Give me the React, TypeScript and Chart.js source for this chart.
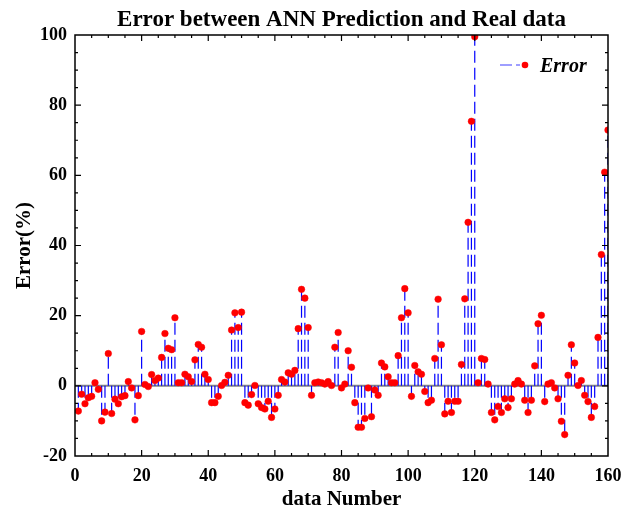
import React, { useEffect, useRef } from "react";
import { Chart, registerables } from "chart.js";

Chart.register(...registerables);

const chartTitle = "Error between ANN Prediction and Real data";
const xAxisTitle = "data Number";
const yAxisTitle = "Error(%)";
const seriesName = "Error";

const xMin = 0;
const xMax = 160;
const xStep = 20;
const yMin = -20;
const yMax = 100;
const yStep = 20;
const minorStep = 5;

const errorValues = [
  -7.2, -2.4, -5.1, -3.4, -3.0, 0.9, -1.0, -10.0, -7.5, 9.2,
  -7.9, -3.8, -5.1, -3.1, -2.8, 1.2, -0.6, -9.7, -2.8, 15.5,
  0.4, -0.2, 3.2, 1.5, 2.2, 8.1, 14.9, 10.7, 10.3, 19.4,
  0.9, 0.9, 3.3, 2.6, 1.2, 7.4, 11.8, 11.0, 3.3, 1.8,
  -4.8, -4.8, -3.0, 0.1, 1.0, 3.0, 15.9, 20.8, 16.6, 21.0,
  -4.8, -5.5, -2.5, 0.1, -5.1, -6.2, -6.6, -4.4, -9.0, -6.6,
  -2.7, 1.8, 1.1, 3.7, 3.3, 4.4, 16.3, 27.5, 25.0, 16.6,
  -2.7, 0.9, 1.1, 0.9, 0.5, 1.2, 0.1, 11.0, 15.2, -0.6,
  0.5, 10.0, 5.3, -4.8, -11.8, -11.8, -9.3, -0.6, -8.8, -1.2,
  -2.7, 6.5, 5.4, 2.6, 0.9, 0.9, 8.6, 19.4, 27.7, 20.8,
  -3.0, 5.8, 4.0, 3.3, -1.6, -4.8, -4.1, 7.8, 24.7, 11.7,
  -8.0, -4.4, -7.6, -4.4, -4.4, 6.1, 24.8, 46.6, 75.4, 99.5,
  0.9, 7.8, 7.5, 0.5, -7.6, -9.7, -5.9, -7.6, -3.7, -6.2,
  -3.7, 0.5, 1.5, 0.5, -4.1, -7.6, -4.1, 5.7, 17.7, 20.1,
  -4.5, 0.5, 0.9, -0.6, -3.7, -10.1, -13.9, 3.0, 11.7, 6.5,
  0.1, 1.5, -2.7, -4.5, -9.0, -5.9, 13.8, 37.4, 60.9, 72.9,
];

const dataNumbers = errorValues.map((_, i) => i + 1);

const SERIF = "'Liberation Serif', 'Times New Roman', serif";

const stemPlugin = {
  id: "stems",
  beforeDatasetsDraw(chart: any) {
    const { ctx, chartArea, scales } = chart;
    const ys = scales.y;
    const y0 = ys.getPixelForValue(0);
    ctx.save();
    ctx.beginPath();
    ctx.rect(chartArea.left, chartArea.top, chartArea.right - chartArea.left, chartArea.bottom - chartArea.top);
    ctx.clip();
    ctx.strokeStyle = "#858585";
    ctx.lineWidth = 2;
    ctx.beginPath();
    ctx.moveTo(chartArea.left, y0);
    ctx.lineTo(chartArea.right, y0);
    ctx.stroke();
    const meta = chart.getDatasetMeta(0);
    ctx.strokeStyle = "#0000ff";
    ctx.lineWidth = 1.2;
    ctx.setLineDash([12, 5]);
    meta.data.forEach((pt: any) => {
      ctx.beginPath();
      ctx.moveTo(pt.x, y0);
      ctx.lineTo(pt.x, pt.y);
      ctx.stroke();
    });
    ctx.restore();
  },
  afterDraw(chart: any) {
    const { ctx, chartArea, scales } = chart;
    const xs = scales.x;
    const ys = scales.y;
    ctx.save();
    ctx.strokeStyle = "#000";
    ctx.lineWidth = 1.5;
    ctx.strokeRect(chartArea.left, chartArea.top, chartArea.right - chartArea.left, chartArea.bottom - chartArea.top);
    ctx.lineWidth = 1.2;
    ctx.beginPath();
    for (let v = xMin + minorStep; v < xMax; v += minorStep) {
      const px = xs.getPixelForValue(v);
      const len = v % xStep === 0 ? 6 : 3;
      ctx.moveTo(px, chartArea.bottom);
      ctx.lineTo(px, chartArea.bottom - len);
      ctx.moveTo(px, chartArea.top);
      ctx.lineTo(px, chartArea.top + len);
    }
    for (let v = yMin + minorStep; v < yMax; v += minorStep) {
      const py = ys.getPixelForValue(v);
      const len = (v - yMin) % yStep === 0 ? 6 : 3;
      ctx.moveTo(chartArea.left, py);
      ctx.lineTo(chartArea.left + len, py);
      ctx.moveTo(chartArea.right, py);
      ctx.lineTo(chartArea.right - len, py);
    }
    ctx.stroke();
    ctx.fillStyle = "#000";
    ctx.font = `bold 23px ${SERIF}`;
    ctx.textAlign = "center";
    ctx.textBaseline = "alphabetic";
    ctx.fillText(chartTitle, (chartArea.left + chartArea.right) / 2, 26);
    const lx = chartArea.right - 108;
    const ly = chartArea.top + 30;
    ctx.strokeStyle = "#7f7fff";
    ctx.lineWidth = 1.5;
    ctx.setLineDash([12, 4]);
    ctx.beginPath();
    ctx.moveTo(lx, ly);
    ctx.lineTo(lx + 20, ly);
    ctx.stroke();
    ctx.setLineDash([]);
    ctx.fillStyle = "#ff0000";
    ctx.beginPath();
    ctx.arc(lx + 25, ly, 3.3, 0, Math.PI * 2);
    ctx.fill();
    ctx.fillStyle = "#000";
    ctx.font = `italic bold 20px ${SERIF}`;
    ctx.textAlign = "left";
    ctx.fillText(seriesName, lx + 40, ly + 7);
    ctx.restore();
  },
};

export default function App() {
  const canvasRef = useRef<HTMLCanvasElement | null>(null);

  useEffect(() => {
    document.body.style.margin = "0";
    const canvas = canvasRef.current;
    if (!canvas) return;
    const chart = new Chart(canvas, {
      type: "scatter",
      data: {
        datasets: [
          {
            label: seriesName,
            data: dataNumbers.map((n, i) => ({ x: n, y: errorValues[i] })),
            showLine: false,
            pointRadius: 3.3,
            pointBackgroundColor: "#ff0000",
            pointBorderColor: "#ff0000",
            pointBorderWidth: 0.5,
          },
        ],
      },
      options: {
        animation: false,
        responsive: false,
        devicePixelRatio: 1,
        layout: { padding: { top: 35, right: 24, left: 0, bottom: 0 } },
        plugins: {
          legend: { display: false },
          title: { display: false },
          tooltip: { enabled: false },
        },
        scales: {
          x: {
            type: "linear",
            min: xMin,
            max: xMax,
            grid: { display: false, drawTicks: false, tickLength: 0 },
            border: { display: false },
            ticks: {
              stepSize: xStep,
              color: "#000",
              padding: 10,
              font: { family: SERIF, size: 18, weight: "bold" },
            },
            title: {
              display: true,
              text: xAxisTitle,
              color: "#000",
              font: { family: SERIF, size: 21, weight: "bold" },
              padding: { top: 0, bottom: 1 },
            },
            afterFit(scale: any) {
              scale.height = 57;
              scale.paddingLeft = 0;
              scale.paddingRight = 0;
            },
          },
          y: {
            type: "linear",
            min: yMin,
            max: yMax,
            grid: { display: false, drawTicks: false, tickLength: 0 },
            border: { display: false },
            ticks: {
              stepSize: yStep,
              color: "#000",
              padding: 8,
              font: { family: SERIF, size: 18, weight: "bold" },
            },
            title: {
              display: true,
              text: yAxisTitle,
              color: "#000",
              font: { family: SERIF, size: 21, weight: "bold" },
              padding: { top: 12, bottom: 0 },
            },
            afterFit(scale: any) {
              scale.width = 75;
              scale.paddingTop = 0;
              scale.paddingBottom = 0;
            },
          },
        },
      },
      plugins: [stemPlugin],
    });
    return () => chart.destroy();
  }, []);

  return (
    <div style={{ width: 632, height: 513 }}>
      <canvas ref={canvasRef} width={632} height={513} style={{ display: "block" }} />
    </div>
  );
}
